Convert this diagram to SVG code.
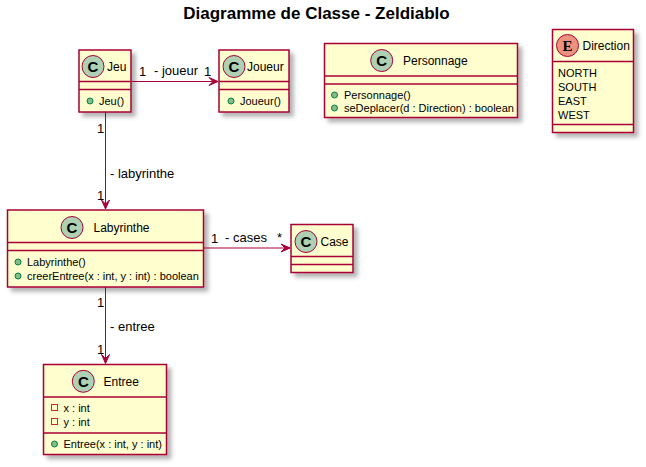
<svg xmlns="http://www.w3.org/2000/svg" width="646" height="467" viewBox="0 0 646 467">
<defs>
<filter id="sh" x="-20%" y="-20%" width="150%" height="150%">
<feGaussianBlur in="SourceAlpha" stdDeviation="2"/>
<feOffset dx="4" dy="4" result="b"/>
<feFlood flood-color="#000" flood-opacity="0.3"/>
<feComposite in2="b" operator="in"/>
<feMerge><feMergeNode/><feMergeNode in="SourceGraphic"/></feMerge>
</filter>
</defs>
<style>
text{font-family:"Liberation Sans",Arial,sans-serif;fill:#000}
.box{fill:#FEFECE;stroke:#A80036;stroke-width:1.5;filter:url(#sh)}
.sep{stroke:#A80036;stroke-width:1.5}
.spot{fill:#ADD1B2;stroke:#A80036;stroke-width:1}
.espot{fill:#EB937F;stroke:#A80036;stroke-width:1}
.sl{font-size:15px;font-weight:bold;text-anchor:middle}
.nm{font-size:12px}
.mb{font-size:11px}
.pub{fill:#84BE84;stroke:#038048;stroke-width:1}
.prv{fill:none;stroke:#C82930;stroke-width:1}
.ln{stroke:#A80036;stroke-width:1;fill:none}
.ah{fill:#A80036;stroke:#A80036;stroke-width:1}
.lb{font-size:13px}
</style>
<text x="316.5" y="19" style="font-size:17px;font-weight:bold" text-anchor="middle">Diagramme de Classe - Zeldiablo</text>

<g id="Jeu">
<rect class="box" x="79" y="50" width="52" height="62"/>
<line class="sep" x1="79" y1="81.5" x2="131" y2="81.5"/>
<line class="sep" x1="79" y1="89.5" x2="131" y2="89.5"/>
<circle class="spot" cx="93" cy="66.5" r="11"/>
<text class="sl" x="93" y="71.8">C</text>
<text class="nm" x="107" y="70.8">Jeu</text>
<circle class="pub" cx="90" cy="101" r="3"/>
<text class="mb" x="99" y="105">Jeu()</text>
</g>

<g id="Joueur">
<rect class="box" x="219" y="50" width="70" height="62"/>
<line class="sep" x1="219" y1="81.5" x2="289" y2="81.5"/>
<line class="sep" x1="219" y1="89.5" x2="289" y2="89.5"/>
<circle class="spot" cx="234" cy="66.5" r="11"/>
<text class="sl" x="234" y="71.8">C</text>
<text class="nm" x="247" y="70.8">Joueur</text>
<circle class="pub" cx="231" cy="101" r="3"/>
<text class="mb" x="240" y="105">Joueur()</text>
</g>

<g id="Personnage">
<rect class="box" x="324.5" y="43.5" width="193" height="74"/>
<line class="sep" x1="324.5" y1="76" x2="517.5" y2="76"/>
<line class="sep" x1="324.5" y1="84" x2="517.5" y2="84"/>
<circle class="spot" cx="381.7" cy="60.5" r="11"/>
<text class="sl" x="381.7" y="65.8">C</text>
<text class="nm" x="403" y="64.8">Personnage</text>
<circle class="pub" cx="334.5" cy="95" r="3"/>
<text class="mb" x="344" y="99">Personnage()</text>
<circle class="pub" cx="334.5" cy="108" r="3"/>
<text class="mb" x="344" y="112">seDeplacer(d : Direction) : boolean</text>
</g>

<g id="Direction">
<rect class="box" x="552.5" y="29.5" width="81" height="103"/>
<line class="sep" x1="552.5" y1="61.5" x2="633.5" y2="61.5"/>
<line class="sep" x1="552.5" y1="124.5" x2="633.5" y2="124.5"/>
<circle class="espot" cx="567.5" cy="45.5" r="11"/>
<text class="sl" x="567.5" y="50.8" style="font-family:'Liberation Serif',serif">E</text>
<text class="nm" x="582.5" y="49.8">Direction</text>
<text class="mb" x="558" y="77">NORTH</text>
<text class="mb" x="558" y="91">SOUTH</text>
<text class="mb" x="558" y="105">EAST</text>
<text class="mb" x="558" y="119">WEST</text>
</g>

<g id="Labyrinthe">
<rect class="box" x="7.5" y="210" width="196" height="77"/>
<line class="sep" x1="7.5" y1="242.5" x2="203.5" y2="242.5"/>
<line class="sep" x1="7.5" y1="250.5" x2="203.5" y2="250.5"/>
<circle class="spot" cx="72" cy="227.5" r="11"/>
<text class="sl" x="72" y="232.8">C</text>
<text class="nm" x="93.5" y="231.8">Labyrinthe</text>
<circle class="pub" cx="18" cy="262" r="3"/>
<text class="mb" x="27" y="266">Labyrinthe()</text>
<circle class="pub" cx="18" cy="276" r="3"/>
<text class="mb" x="27" y="280">creerEntree(x : int, y : int) : boolean</text>
</g>

<g id="Case">
<rect class="box" x="291" y="224.5" width="62" height="48"/>
<line class="sep" x1="291" y1="256.5" x2="353" y2="256.5"/>
<line class="sep" x1="291" y1="264.5" x2="353" y2="264.5"/>
<circle class="spot" cx="306" cy="241.5" r="11"/>
<text class="sl" x="306" y="246.8">C</text>
<text class="nm" x="320.5" y="245.8">Case</text>
</g>

<g id="Entree">
<rect class="box" x="43.5" y="364.5" width="123" height="90"/>
<line class="sep" x1="43.5" y1="397" x2="166.5" y2="397"/>
<line class="sep" x1="43.5" y1="433" x2="166.5" y2="433"/>
<circle class="spot" cx="83.3" cy="381.3" r="11"/>
<text class="sl" x="83.3" y="386.6">C</text>
<text class="nm" x="103.5" y="385.6">Entree</text>
<rect class="prv" x="51.5" y="404.5" width="6" height="6"/>
<text class="mb" x="63.5" y="412">x : int</text>
<rect class="prv" x="51.5" y="418.5" width="6" height="6"/>
<text class="mb" x="63.5" y="426">y : int</text>
<circle class="pub" cx="54.5" cy="444" r="3"/>
<text class="mb" x="63.5" y="448">Entree(x : int, y : int)</text>
</g>

<g id="connectors">
<path class="ln" d="M131,81.5 L218,81.5"/>
<polygon class="ah" points="218,81.5 209,77.5 213,81.5 209,85.5"/>
<text class="lb" x="139" y="76">1</text>
<text class="lb" x="154" y="75">- joueur</text>
<text class="lb" x="204" y="76">1</text>

<path class="ln" d="M105.5,112 L105.5,209"/>
<polygon class="ah" points="105.5,209 101.5,200 105.5,204 109.5,200"/>
<text class="lb" x="97" y="133">1</text>
<text class="lb" x="110" y="178">- labyrinthe</text>
<text class="lb" x="97" y="200">1</text>

<path class="ln" d="M203.5,248 L290,248"/>
<polygon class="ah" points="290,248 281,244 285,248 281,252"/>
<text class="lb" x="211" y="243">1</text>
<text class="lb" x="225" y="242">- cases</text>
<text class="lb" x="277" y="242">*</text>

<path class="ln" d="M105.5,287 L105.5,363.5"/>
<polygon class="ah" points="105.5,363.5 101.5,354.5 105.5,358.5 109.5,354.5"/>
<text class="lb" x="97" y="307">1</text>
<text class="lb" x="110" y="331">- entree</text>
<text class="lb" x="97" y="354">1</text>
</g>
</svg>
